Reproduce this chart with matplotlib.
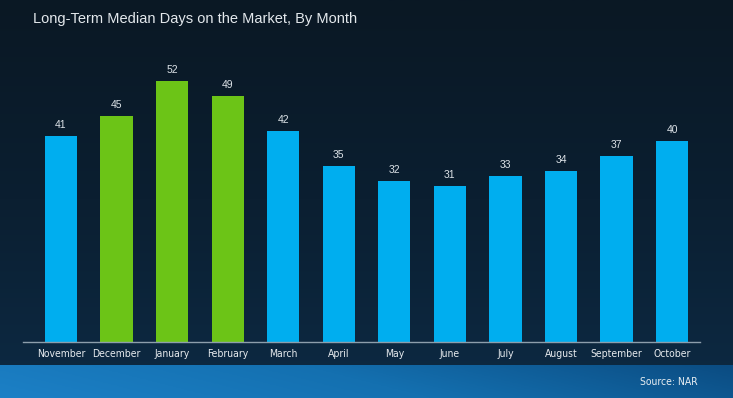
import numpy as np
import matplotlib.pyplot as plt
from matplotlib.colors import LinearSegmentedColormap

# Données
months = ['November', 'December', 'January', 'February', 'March', 'April',
          'May', 'June', 'July', 'August', 'September', 'October']
days = [41, 45, 52, 49, 42, 35, 32, 31, 33, 34, 37, 40]
winter = ['December', 'January', 'February']

blue = '#00aeef'
green = '#6cc417'
narrow = ['Liberation Sans Narrow', 'DejaVu Sans']

W, H = 733, 398
fig = plt.figure(figsize=(W / 100, H / 100), dpi=100)

# Fond dégradé
bg = fig.add_axes([0, 0, 1, 1])
bg.set_axis_off()
grad = np.linspace(0, 1, 256).reshape(-1, 1)
cmap_bg = LinearSegmentedColormap.from_list('bg', ['#0a1824', '#0b1f31', '#0d2a44'])
bg.imshow(grad, aspect='auto', cmap=cmap_bg, extent=[0, 1, 0, 1], origin='upper')
# bande bleue du bas
band_h = 33 / H
xx = np.linspace(0, 1, 256)
yy = np.linspace(0, 1, 32)
X, Y = np.meshgrid(xx, yy)
cmap_band = LinearSegmentedColormap.from_list('band', ['#1c80c6', '#1470b0', '#0b4c82'])
bg.imshow(0.85 * X + 0.15 * Y, aspect='auto', cmap=cmap_band,
          extent=[0, 1, 0, band_h], origin='lower')
bg.set_xlim(0, 1)
bg.set_ylim(0, 1)

# Graphique
left, right = 23 / W, 700 / W
bottom = 1 - 342 / H
ax = fig.add_axes([left, bottom, right - left, (342 - 40.8) / H])
ax.patch.set_alpha(0)
x = np.arange(len(months))
colors = [green if m in winter else blue for m in months]
bars = ax.bar(x, days, width=0.58, color=colors)
for xi, v in zip(x, days):
    ax.text(xi, v + 1.2, str(v), ha='center', va='bottom', color='#dde3e8',
            fontsize=7.5, family=['Liberation Sans', 'DejaVu Sans'])

ax.set_xlim(-0.684, 11.503)
ax.set_ylim(0, 60)
ax.set_yticks([])
ax.set_xticks(x)
ax.set_xticklabels(months, color='#e6eaee', fontsize=7.5, family=narrow,
                   stretch='condensed')
ax.tick_params(axis='x', length=0, pad=5)
for s in ['top', 'right', 'left']:
    ax.spines[s].set_visible(False)
ax.spines['bottom'].set_color('#8d9eac')
ax.spines['bottom'].set_linewidth(1)

# Textes
fig.text(33 / W, 1 - 19 / H, 'Long-Term Median Days on the Market, By Month',
         color='#e3e8ec', fontsize=10.5, ha='left', va='center',
         family=['Liberation Sans', 'DejaVu Sans'])
fig.text(698 / W, 1 - 382 / H, 'Source: NAR', color='#e8eef2', fontsize=7.5,
         ha='right', va='center', family=narrow, stretch='condensed')

fig.savefig('out.png', dpi=100)
